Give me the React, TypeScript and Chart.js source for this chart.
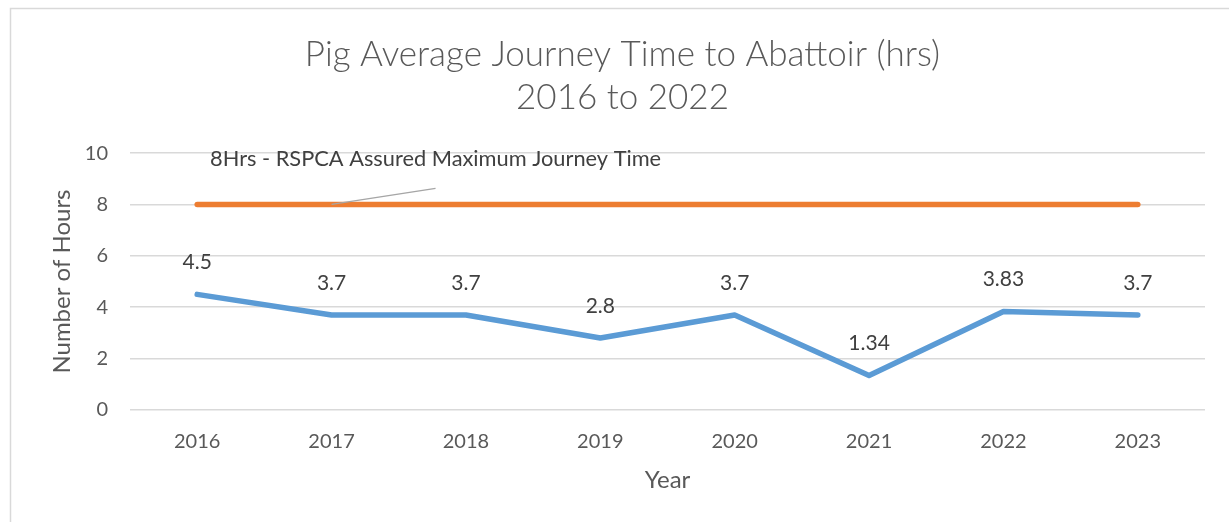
import React, { useEffect, useRef } from "react";
import { Chart, registerables } from "chart.js";

Chart.register(...registerables);

const years = ["2016", "2017", "2018", "2019", "2020", "2021", "2022", "2023"];
const journeyHours = [4.5, 3.7, 3.7, 2.8, 3.7, 1.34, 3.83, 3.7];
const maxHours = [8, 8, 8, 8, 8, 8, 8, 8];
const yTicks = [0, 2, 4, 6, 8, 10];
const titleLines = ["Pig Average Journey Time to Abattoir (hrs)", "2016 to 2022"];
const maxLabel = "8Hrs - RSPCA Assured Maximum Journey Time";
const maxLabelIndex = 1;

const FONT = "Lato, 'Open Sans', sans-serif";

const framePlugin = {
  id: "frame",
  beforeDraw(chart: any) {
    const ctx = chart.ctx;
    ctx.save();
    ctx.fillStyle = "#ffffff";
    ctx.fillRect(0, 0, chart.width, chart.height);
    ctx.strokeStyle = "#d9d9d9";
    ctx.lineWidth = 1.5;
    ctx.strokeRect(10.5, 8.5, chart.width + 50, chart.height + 50);
    ctx.restore();
  },
};

const labelsPlugin = {
  id: "valueLabels",
  afterDatasetsDraw(chart: any) {
    const ctx = chart.ctx;
    ctx.save();
    const meta0 = chart.getDatasetMeta(0);
    ctx.font = `21px ${FONT}`;
    ctx.fillStyle = "#404040";
    ctx.textAlign = "center";
    ctx.textBaseline = "middle";
    meta0.data.forEach((pt: any, i: number) => {
      ctx.fillText(String(journeyHours[i]), pt.x, pt.y - 32);
    });
    const meta1 = chart.getDatasetMeta(1);
    const p = meta1.data[maxLabelIndex];
    if (p) {
      ctx.strokeStyle = "#a6a6a6";
      ctx.lineWidth = 1.3;
      ctx.beginPath();
      ctx.moveTo(p.x, p.y);
      ctx.lineTo(p.x + 104, p.y - 16);
      ctx.stroke();
      ctx.fillStyle = "#404040";
      ctx.font = `21.8px ${FONT}`;
      ctx.fillText(maxLabel, p.x + 104, p.y - 46);
    }
    ctx.restore();
  },
};

export default function App() {
  const ref = useRef<HTMLCanvasElement | null>(null);
  useEffect(() => {
    if (!ref.current) return;
    const chart = new Chart(ref.current, {
      type: "line",
      data: {
        labels: years,
        datasets: [
          {
            label: "Average journey time",
            data: journeyHours,
            borderColor: "#5B9BD5",
            backgroundColor: "#5B9BD5",
            borderWidth: 5.5,
            borderCapStyle: "round",
            borderJoinStyle: "round",
            pointRadius: 0,
            tension: 0,
          },
          {
            label: "RSPCA maximum",
            data: maxHours,
            borderColor: "#ED7D31",
            backgroundColor: "#ED7D31",
            borderWidth: 5.5,
            borderCapStyle: "round",
            pointRadius: 0,
            tension: 0,
          },
        ],
      },
      options: {
        animation: false,
        responsive: false,
        layout: { padding: { left: 40, right: 24, top: 0, bottom: 0 } },
        plugins: {
          legend: { display: false },
          tooltip: { enabled: false },
          title: {
            display: true,
            text: titleLines,
            color: "#595959",
            font: { family: FONT, size: 35, weight: "300" as any, lineHeight: 1.23 },
            padding: { top: 33.5, bottom: 33.5 },
          },
        },
        scales: {
          x: {
            offset: true,
            grid: { display: false, drawTicks: false },
            border: { display: false },
            ticks: { color: "#595959", font: { family: FONT, size: 20 }, padding: 20 },
            title: {
              display: true,
              text: "Year",
              color: "#595959",
              font: { family: FONT, size: 24 },
              padding: { top: 12, bottom: 27 },
            },
            afterFit(scale: any) {
              scale.height = 112;
            },
          },
          y: {
            min: 0,
            max: 10,
            afterBuildTicks(scale: any) {
              scale.ticks = yTicks.map((v) => ({ value: v }));
            },
            grid: { color: "#d9d9d9", lineWidth: 1.5, drawTicks: false },
            border: { display: false },
            ticks: { color: "#595959", font: { family: FONT, size: 20 }, padding: 22 },
            title: {
              display: true,
              text: "Number of Hours",
              color: "#595959",
              font: { family: FONT, size: 24 },
              padding: { top: 8, bottom: 8 },
            },
            afterFit(scale: any) {
              scale.width = 90;
            },
          },
        },
      },
      plugins: [framePlugin, labelsPlugin],
    });
    return () => chart.destroy();
  }, []);
  return (
    <div style={{ position: "fixed", left: 0, top: 0, width: 1229, height: 522, background: "#fff" }}>
      <canvas ref={ref} width={1229} height={522} style={{ display: "block" }} />
    </div>
  );
}
